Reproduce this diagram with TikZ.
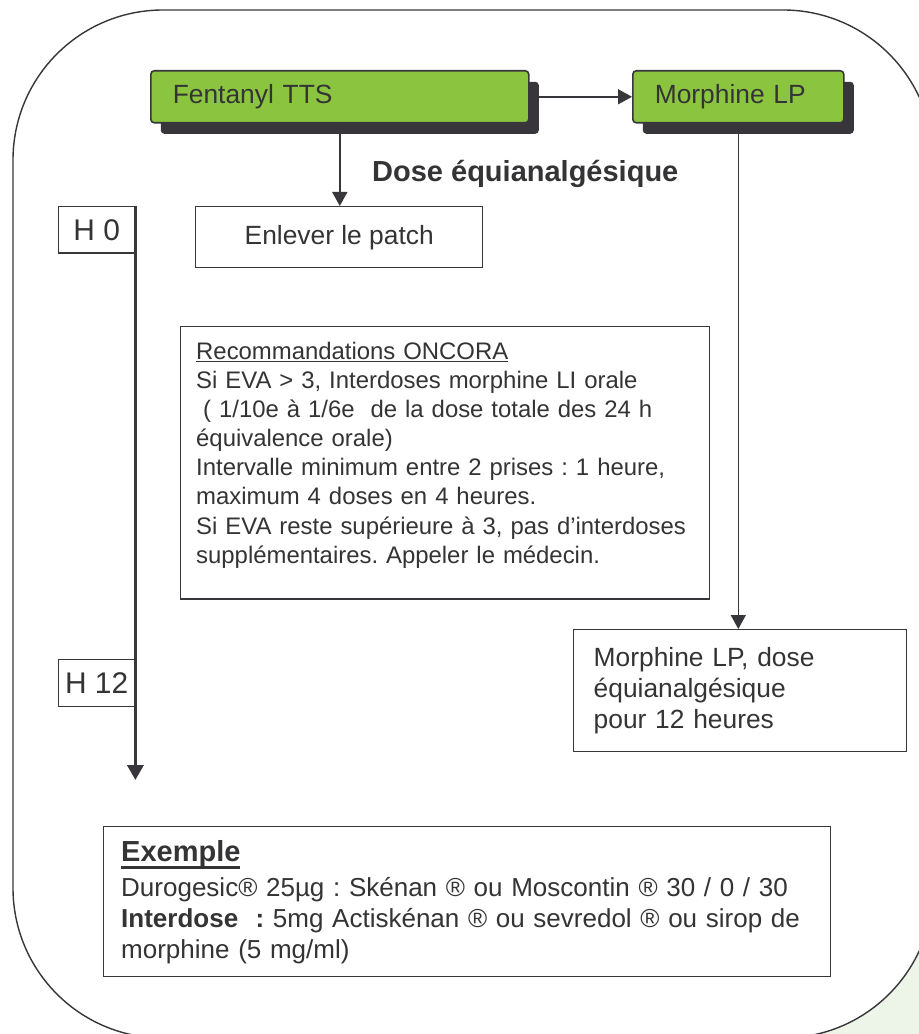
\documentclass[tikz,border=0pt]{standalone}
\usepackage{fontspec}
\setmainfont{Liberation Sans}
\usetikzlibrary{arrows.meta,shadows}
\frenchspacing

\definecolor{lineg}{RGB}{56,54,58}
\definecolor{txtg}{RGB}{52,52,54}
\definecolor{drugg}{RGB}{139,197,63}
\definecolor{paleg}{RGB}{237,245,233}

% thick underline for the example title
\newcommand{\thickul}[1]{\setbox0\hbox{#1}\rlap{\rule[-4.6pt]{\wd0}{1.5pt}}\box0}

\begin{document}
\begin{tikzpicture}[
        txt/.style={font=\fontsize{15}{17.4}\selectfont, text=txtg},
        drug/.style={txt, draw=lineg, line width=0.9pt, fill=drugg, rounded corners=2pt, anchor=north west, minimum height=1.04cm, align=left, inner xsep=0.44cm, drop shadow={shadow xshift=0.2cm, shadow yshift=-0.22cm, fill=lineg, opacity=1}},
        plainbox/.style={txt, draw=lineg, line width=0.8pt, anchor=north west},
        hour/.style={plainbox, font=\fontsize{17}{19}\selectfont, minimum width=1.52cm, minimum height=0.93cm, inner sep=0pt},
        link/.style={draw=lineg, line width=0.85pt, -{Triangle[length=0.28cm,width=0.3cm]}},
    ]
        % Define Variables
        \def\timeX{2.68}
        \def\timeEnd{-15.6}

        % Overall Frame
        \useasboundingbox (0,0) rectangle (18.36,-20.68);
        \fill[paleg] (18.8,-21.6) circle (3cm);
        \draw[lineg, line width=0.8pt, fill=white, rounded corners=3cm] (0.26,-0.2) rectangle (18.66,-20.76);

        % Drugs
        \node[drug, text width=6.68cm] (fenta) at (3.0,-1.4) {Fentanyl TTS};
        \node[drug, text width=3.34cm] (mlp) at (12.64,-1.4) {Morphine LP};
        \draw[link] (fenta.east) -- (mlp.west);
        \node[anchor=west, text=txtg, font=\bfseries\fontsize{16.5}{19}\selectfont] (dose) at (7.32,-3.48) {Dose équianalgésique};

        % Time Line
        \node[hour] (h0) at (1.16,-4.12) {H 0};
        \node[hour, minimum height=0.94cm] (h12) at (1.16,-13.18) {H 12};
        \coordinate (tend) at (\timeX,\timeEnd);
        \draw[lineg, line width=2pt, -{Triangle[length=0.3cm,width=0.32cm]}] (h0.north east) -- (h0.north east |- tend);

        % Left Branch
        \node[plainbox, minimum width=5.74cm, minimum height=1.22cm] (patch) at (3.9,-4.12) {Enlever le patch};
        \draw[link] (fenta.south) -- (fenta.south |- patch.north);
        \node[plainbox, font=\fontsize{13.6}{16.6}\selectfont, text width=9.95cm, align=left, inner xsep=0.31cm, inner ysep=0.3cm, text depth=4.5cm] (oncora) at (3.6,-6.52) {\underline{Recommandations ONCORA}\\
            Si EVA > 3, Interdoses morphine LI orale\\
            \hspace*{4pt}( 1/10e à 1/6e\ \ de la dose totale des 24 h\\
            équivalence orale)\\
            Intervalle minimum entre 2 prises : 1 heure,\\
            maximum 4 doses en 4 heures.\\
            Si EVA reste supérieure à 3, pas d’interdoses\\
            supplémentaires. Appeler le médecin.};

        % Right Branch
        \node[plainbox, text width=5.86cm, align=left, inner xsep=0.4cm, minimum height=2.44cm] (mlp12) at (11.46,-12.58) {Morphine LP, dose\\ équianalgésique\\ pour 12 heures};
        \draw[link] (mlp.south) -- (mlp.south |- mlp12.north);

        % Example
        \node[plainbox, font=\fontsize{14.8}{17.4}\selectfont, text width=13.84cm, align=left, inner xsep=0.35cm, minimum height=3.0cm] (exemple) at (2.06,-16.52) {{\bfseries\fontsize{16.5}{19}\selectfont\thickul{Exemple}}\\[3pt]
            Durogesic® 25µg : Skénan ® ou Moscontin ® 30 / 0 / 30\\
            \textbf{Interdose\ \ :} 5mg Actiskénan ® ou sevredol ® ou sirop de\\
            morphine (5 mg/ml)};

    \end{tikzpicture}
\end{document}
